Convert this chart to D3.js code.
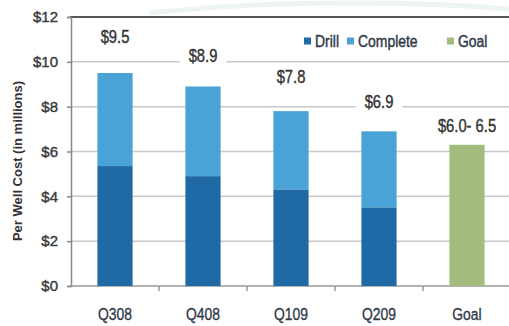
<!DOCTYPE html>
<html>
<head>
<meta charset="utf-8">
<script src="https://cdn.jsdelivr.net/npm/d3@7"></script>
<style>
  html, body { margin: 0; padding: 0; background: #fff; }
  svg { display: block; }
</style>
</head>
<body>
<svg id="chart" width="509" height="326"></svg>
<script>
// Per-well cost by quarter, in $ millions
const categories = ["Q308", "Q408", "Q109", "Q209", "Goal"];
const drill      = [5.35, 4.9, 4.3, 3.5, 0];
const total      = [9.5, 8.9, 7.8, 6.9, 6.3];
const goal       = [0, 0, 0, 0, 6.3];
const totalLabels = ["$9.5", "$8.9", "$7.8", "$6.9", "$6.0- 6.5"];
const yTicks = [0, 2, 4, 6, 8, 10, 12];
const legendItems = ["Drill", "Complete", "Goal"];

const colors = { Drill: "#1f6aa4", Complete: "#4aa3d7", Goal: "#a4bb7e" };
const sans = "'Liberation Sans', Arial, sans-serif";
const squeeze = 0.82;   // condensed look for labels

const svg = d3.select("#chart");
const plotLeft = 71, plotRight = 511, plotTop = 17, plotBottom = 286;

const x = d3.scaleBand().domain(categories).range([plotLeft, plotRight])
  .paddingInner(0.6).paddingOuter(0.3);
const y = d3.scaleLinear().domain([0, 12]).range([plotBottom, plotTop]);

// faint swoosh in the header
svg.append("path")
  .attr("d", "M150,13 C260,1 400,0 509,9")
  .attr("fill", "none").attr("stroke", "#eef3f3").attr("stroke-width", 5);

// horizontal gridlines
svg.append("g").selectAll("line").data(yTicks.filter(t => t > 0 && t < 12)).join("line")
  .attr("x1", plotLeft).attr("x2", 509)
  .attr("y1", d => y(d)).attr("y2", d => y(d))
  .attr("stroke", "#c8c8c8").attr("stroke-width", 1.5);

// top border
svg.append("line").attr("x1", plotLeft - 1).attr("x2", 509)
  .attr("y1", y(12)).attr("y2", y(12))
  .attr("stroke", "#555").attr("stroke-width", 2);

// y axis
const yAxis = d3.axisLeft(y).tickValues(yTicks).tickSize(4).tickFormat(d => "$" + d);
const gy = svg.append("g").attr("transform", `translate(${plotLeft},0)`).call(yAxis);
gy.select(".domain").attr("stroke", "#888").attr("stroke-width", 1.5);
gy.selectAll(".tick line").attr("stroke", "#888").attr("stroke-width", 1.5);
gy.selectAll(".tick text")
  .attr("x", -13)
  .attr("fill", "#3a3a3a").attr("font-family", sans).attr("font-size", 15)
  .attr("stroke", "#3a3a3a").attr("stroke-width", 0.4);

// x axis
const xAxis = d3.axisBottom(x).tickSize(0).tickPadding(22);
const gx = svg.append("g").attr("transform", `translate(0,${plotBottom})`).call(xAxis);
gx.select(".domain").remove();
svg.append("line").attr("x1", plotLeft - 1).attr("x2", 509)
  .attr("y1", plotBottom).attr("y2", plotBottom)
  .attr("stroke", "#999").attr("stroke-width", 1.5);
gx.selectAll(".tick text")
  .attr("transform", `scale(${squeeze},1)`)
  .attr("fill", "#2f3a48").attr("font-family", sans).attr("font-size", 17)
  .attr("stroke", "#2f3a48").attr("stroke-width", 0.35);
// separators between categories
svg.append("g").selectAll("line").data(categories.slice(1)).join("line")
  .attr("x1", d => x(d) - x.step() * x.paddingInner() / 2)
  .attr("x2", d => x(d) - x.step() * x.paddingInner() / 2)
  .attr("y1", plotBottom).attr("y2", plotBottom + 5)
  .attr("stroke", "#999").attr("stroke-width", 1.5);

// stacked bars
const bars = svg.append("g");
categories.forEach((c, i) => {
  if (goal[i] > 0) {
    bars.append("rect").attr("x", x(c)).attr("width", x.bandwidth())
      .attr("y", y(goal[i])).attr("height", y(0) - y(goal[i]))
      .attr("fill", colors.Goal);
  } else {
    bars.append("rect").attr("x", x(c)).attr("width", x.bandwidth())
      .attr("y", y(total[i])).attr("height", y(drill[i]) - y(total[i]))
      .attr("fill", colors.Complete);
    bars.append("rect").attr("x", x(c)).attr("width", x.bandwidth())
      .attr("y", y(drill[i])).attr("height", y(0) - y(drill[i]))
      .attr("fill", colors.Drill);
  }
});

// total labels on white plates
const labelLift = [37, 31, 35, 30, 19];
const lbl = svg.append("g");
categories.forEach((c, i) => {
  const cx = x(c) + x.bandwidth() / 2;
  const cy = y(total[i]) - labelLift[i];
  const g = lbl.append("g").attr("transform", `translate(${cx},${cy})`);
  const plate = g.append("rect").attr("fill", "#fff");
  const t = g.append("text").attr("transform", `scale(${squeeze},1)`).attr("dy", "0.36em")
    .attr("text-anchor", "middle").attr("fill", "#333")
    .attr("font-family", sans).attr("font-size", 18)
    .attr("stroke", "#333").attr("stroke-width", 0.4).text(totalLabels[i]);
  const b = t.node().getBBox();
  plate.attr("x", b.x * squeeze - 9).attr("y", b.y - 2)
    .attr("width", b.width * squeeze + 18).attr("height", b.height + 4);
});

// legend
const legend = svg.append("g").attr("transform", "translate(304,41)");
const legendX = [0, 43, 143];
legendItems.forEach((k, i) => {
  legend.append("rect").attr("x", legendX[i]).attr("y", -3.5).attr("width", 7).attr("height", 7)
    .attr("fill", colors[k]);
  legend.append("text")
    .attr("transform", `translate(${legendX[i] + 11},0) scale(${squeeze},1)`).attr("dy", "0.36em")
    .attr("fill", "#2f3a48").attr("font-family", sans).attr("font-size", 17)
    .attr("stroke", "#2f3a48").attr("stroke-width", 0.45).text(k);
});

// y axis title
svg.append("text")
  .attr("transform", `translate(17,${(65 + 257) / 2}) rotate(-90)`)
  .attr("text-anchor", "middle").attr("dy", "0.36em")
  .attr("fill", "#333").attr("font-family", sans).attr("font-weight", "bold")
  .attr("font-size", 13).text("Per Well Cost (in millions)");
</script>
</body>
</html>
